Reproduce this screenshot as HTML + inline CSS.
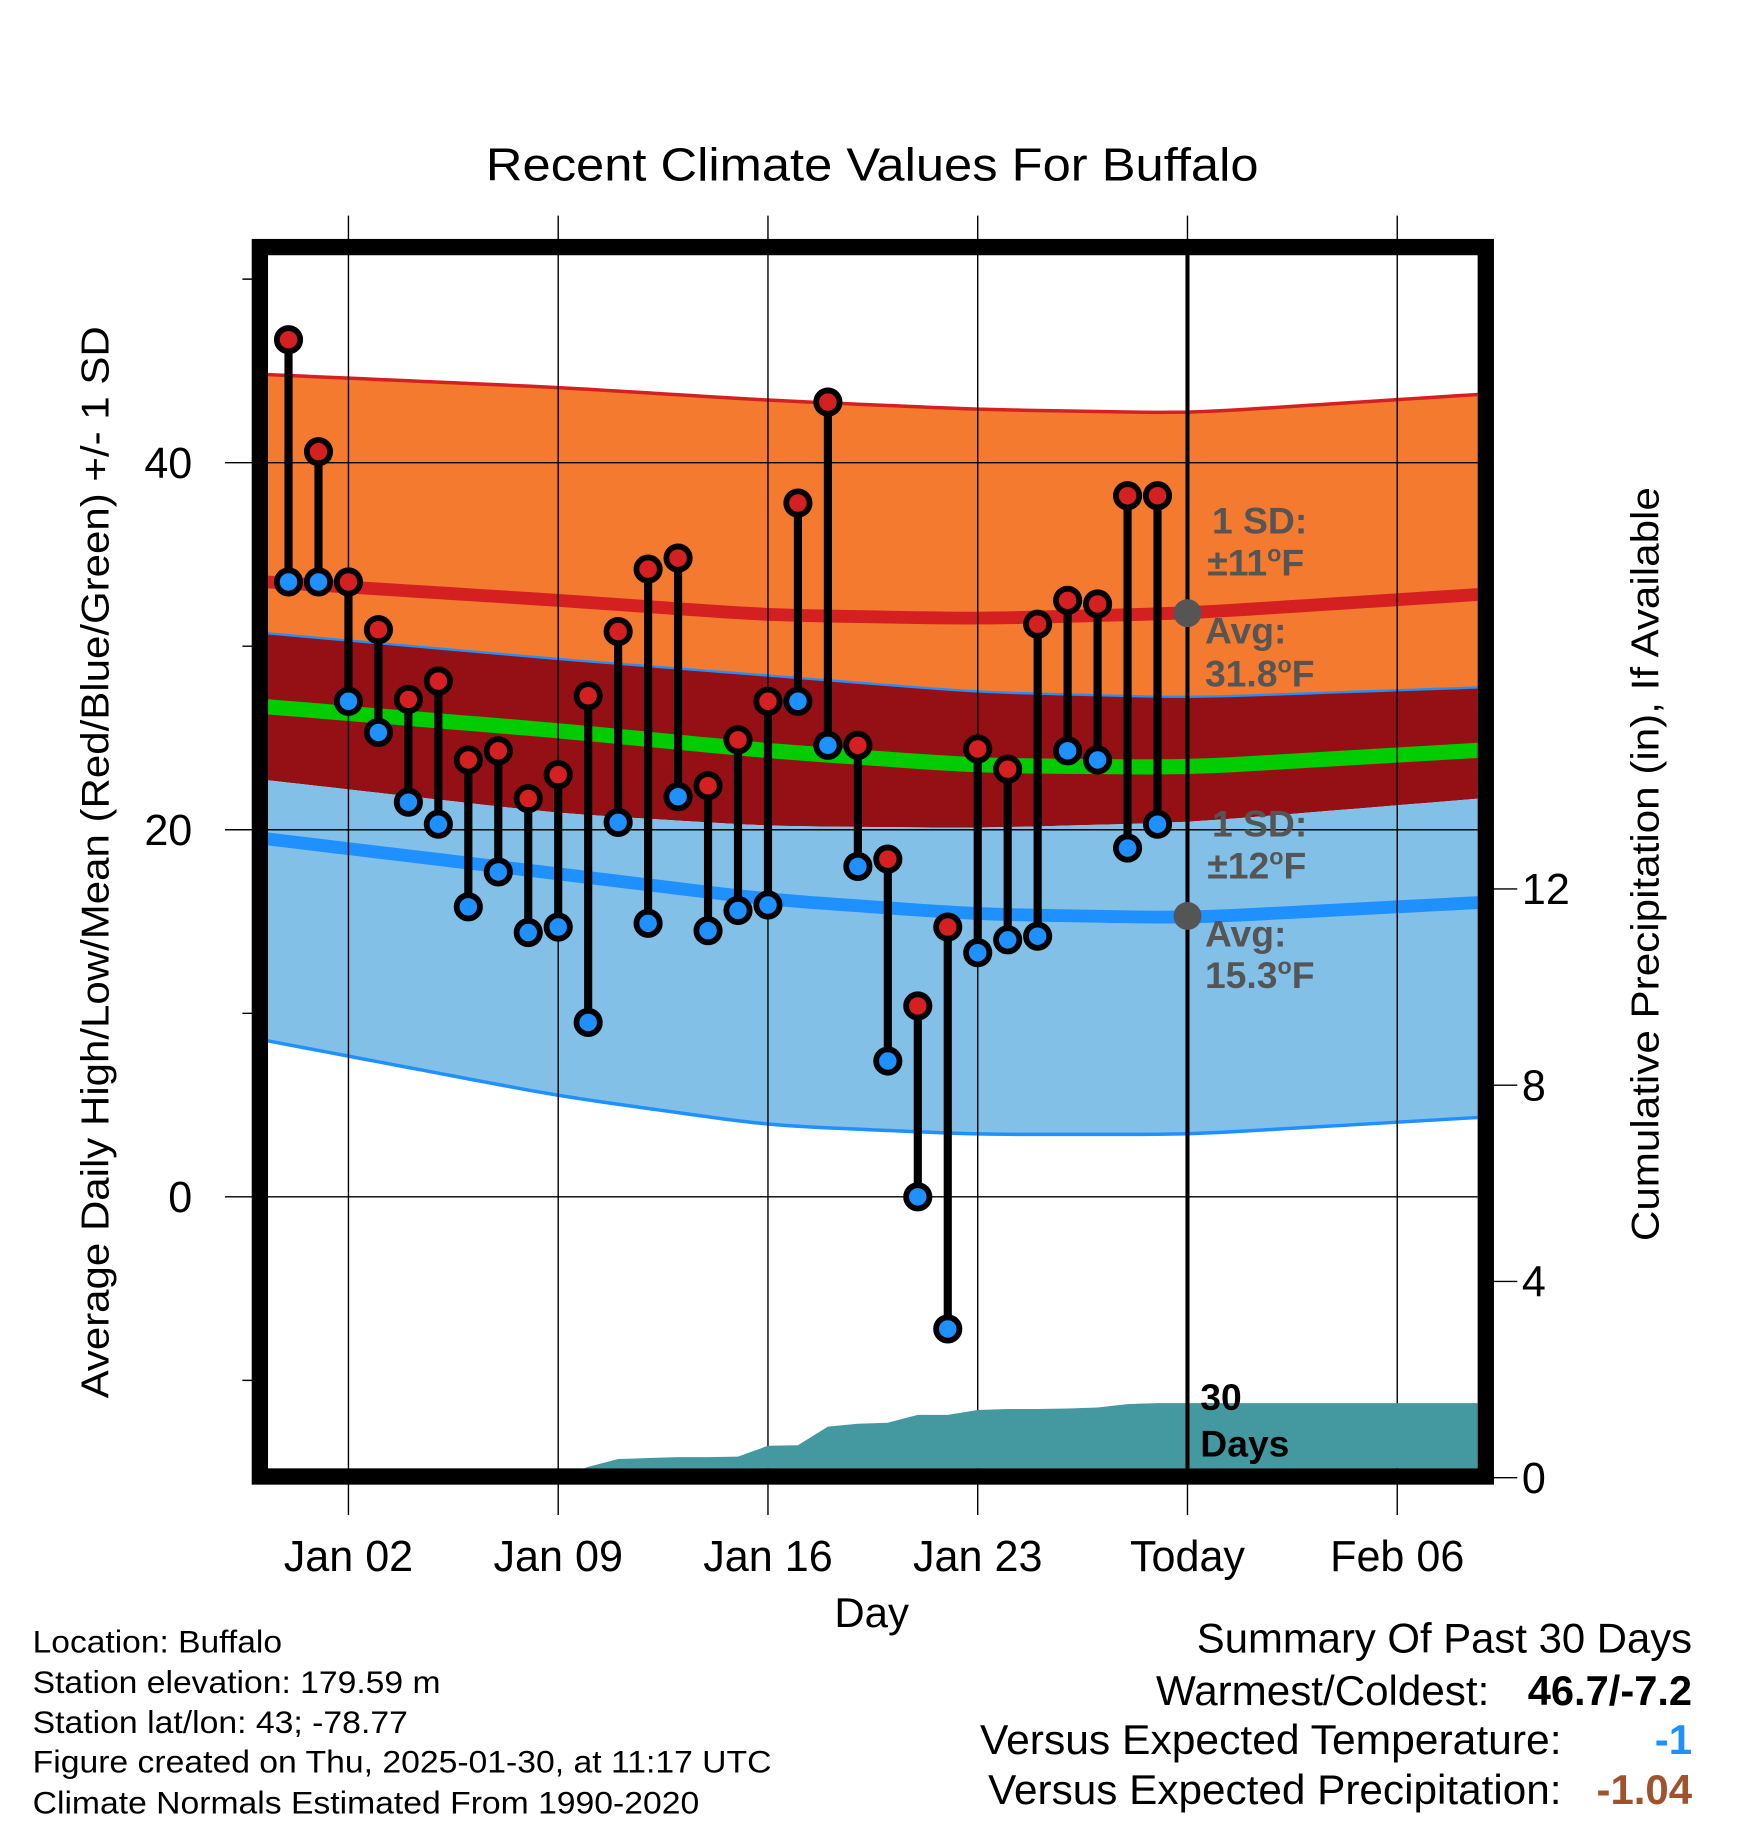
<!DOCTYPE html>
<html><head><meta charset="utf-8"><style>
html,body{margin:0;padding:0;background:#fff}
svg{display:block;font-family:"Liberation Sans",Arial,sans-serif}
</style></head><body>
<svg id="chart" width="1748" height="1828" viewBox="0 0 1500 1568.6" xmlns="http://www.w3.org/2000/svg">
<defs><clipPath id="pc"><rect x="230" y="218" width="1038" height="1042"/></clipPath></defs>
<rect width="1500" height="1569" fill="#fff"/>
<text x="417" y="155" font-size="40" textLength="663" lengthAdjust="spacingAndGlyphs">Recent Climate Values For Buffalo</text>
<g id="bands" clip-path="url(#pc)"></g>
<g id="grid"></g>
<g id="precip" clip-path="url(#pc)"></g>
<g id="marks"></g>
<g id="annot" font-weight="bold" font-size="32" fill="#555">
<text x="1040" y="458">1 SD:</text>
<text x="1036" y="494">±11<tspan font-size="20" dy="-12">o</tspan><tspan dy="12">F</tspan></text>
<text x="1034" y="552">Avg:</text>
<text x="1034" y="589">31.8<tspan font-size="20" dy="-12">o</tspan><tspan dy="12">F</tspan></text>
<text x="1040" y="718">1 SD:</text>
<text x="1036" y="754">±12<tspan font-size="20" dy="-12">o</tspan><tspan dy="12">F</tspan></text>
<text x="1034" y="812">Avg:</text>
<text x="1034" y="848">15.3<tspan font-size="20" dy="-12">o</tspan><tspan dy="12">F</tspan></text>
<text x="1030" y="1210" fill="#000">30</text>
<text x="1030" y="1250" fill="#000">Days</text>
</g>
<rect x="223" y="212" width="1052" height="1055" fill="none" stroke="#000" stroke-width="14"/>
<text transform="translate(93,1200) rotate(-90)" font-size="33" textLength="920" lengthAdjust="spacingAndGlyphs">Average Daily High/Low/Mean (Red/Blue/Green) +/- 1 SD</text>
<text transform="translate(1423,1065) rotate(-90)" font-size="33" textLength="647" lengthAdjust="spacingAndGlyphs">Cumulative Precipitation (in), If Available</text>
<text x="748" y="1396" font-size="36" text-anchor="middle">Day</text>
<g font-size="27">
<text x="28" y="1418" textLength="214" lengthAdjust="spacingAndGlyphs">Location: Buffalo</text>
<text x="28" y="1453" textLength="350" lengthAdjust="spacingAndGlyphs">Station elevation: 179.59 m</text>
<text x="28" y="1487" textLength="322" lengthAdjust="spacingAndGlyphs">Station lat/lon: 43; -78.77</text>
<text x="28" y="1521" textLength="634" lengthAdjust="spacingAndGlyphs">Figure created on Thu, 2025-01-30, at 11:17 UTC</text>
<text x="28" y="1556" textLength="572" lengthAdjust="spacingAndGlyphs">Climate Normals Estimated From 1990-2020</text>
</g>
<g font-size="36">
<text x="1027" y="1418" textLength="425" lengthAdjust="spacingAndGlyphs">Summary Of Past 30 Days</text>
<text x="992" y="1463" textLength="286" lengthAdjust="spacingAndGlyphs">Warmest/Coldest:</text>
<text x="1311" y="1463" font-weight="bold" textLength="141" lengthAdjust="spacingAndGlyphs">46.7/-7.2</text>
<text x="841" y="1505" textLength="499" lengthAdjust="spacingAndGlyphs">Versus Expected Temperature:</text>
<text x="1452" y="1505" font-weight="bold" fill="#1E90FF" text-anchor="end">-1</text>
<text x="848" y="1548" textLength="492" lengthAdjust="spacingAndGlyphs">Versus Expected Precipitation:</text>
<text x="1370" y="1548" font-weight="bold" fill="#A0522D" textLength="82" lengthAdjust="spacingAndGlyphs">-1.04</text>
</g>
</svg>
<script>
// days relative to Jan 1 (0 = Jan 1)
const obsDays = [-1,0,1,2,3,4,5,6,7,8,9,10,11,12,13,14,15,16,17,18,19,20,21,22,23,24,25,26,27,28];
const highs = [46.7,40.6,33.5,30.9,27.1,28.1,23.8,24.3,21.7,23.0,27.3,30.8,34.2,34.8,22.4,24.9,27.0,37.8,43.3,24.6,18.4,10.4,14.7,24.4,23.3,31.2,32.5,32.3,38.2,38.2];
const lows = [33.5,33.5,27.0,25.3,21.5,20.3,15.8,17.7,14.4,14.7,9.5,20.4,14.9,21.8,14.5,15.6,15.9,27.0,24.6,18.0,7.4,0,-7.2,13.3,14.0,14.2,24.3,23.8,19.0,20.3];
const precipCum = [0,0,0,0,0,0,0,0,0,0,0.22,0.38,0.4,0.42,0.42,0.43,0.65,0.66,1.04,1.1,1.12,1.28,1.28,1.38,1.4,1.4,1.41,1.43,1.5,1.52];
const normDays = [-1.7,8,15,22,29,39.5];
const normHighPlusSD = [44.8,44.1,43.4,42.9,42.7,43.8];
const normHigh = [33.5,32.5,31.7,31.5,31.8,32.9];
const normHighMinusSD = [30.7,29.3,28.4,27.5,27.2,27.8];
const normMean = [26.7,25.4,24.3,23.5,23.4,24.4];
const normLowPlusSD = [22.7,20.9,20.2,20.1,20.4,21.8];
const normLow = [19.5,17.6,16.2,15.4,15.2,16.1];
const normLowMinusSD = [8.5,5.5,3.9,3.4,3.4,4.4];
const xTickDays = [1,8,15,22,29,36];
const xTickLabels = ["Jan 02","Jan 09","Jan 16","Jan 23","Today","Feb 06"];
const yTicks = [0,20,40];
const yMinor = [-10,10,30,50];
const y2Ticks = [0,4,8,12];

const NS="http://www.w3.org/2000/svg";
const X=d=>273.3+d*25.714;
const Y=v=>1027-15.75*v;
const Y2=p=>1268-42.1*p;
function mk(tag,parent,attrs){const e=document.createElementNS(NS,tag);for(const k in attrs)e.setAttribute(k,attrs[k]);document.getElementById(parent).appendChild(e);return e;}
function interp(arr,d){let i=0;while(i<normDays.length-2&&d>normDays[i+1])i++;
// monotone-ish smoothing via cosine blend between neighbouring segments
const t=(d-normDays[i])/(normDays[i+1]-normDays[i]);return arr[i]+(arr[i+1]-arr[i])*t;}
function curve(arr){const pts=[];for(let d=-2;d<=40;d+=0.5){
let v=0,w=0;for(let k=-3;k<=3;k++){const wk=Math.exp(-k*k/4);v+=interp(arr,d+k*0.8)*wk;w+=wk;}
pts.push([X(d),Y(v/w)]);}return pts;}
function band(top,bot,fill,name){const a=curve(top),b=curve(bot).reverse();const e=mk('path','bands',{d:'M'+a.concat(b).map(p=>p.join(',')).join('L')+'Z',fill:fill});

}
function line(arr,col,w,name){const e=mk('path','bands',{d:'M'+curve(arr).map(p=>p.join(',')).join('L'),fill:'none',stroke:col,'stroke-width':w});

}
band(normHighPlusSD,normHighMinusSD,'#F47A30','high-sd-band');
band(normHighMinusSD,normLowPlusSD,'#951015','mid-band');
band(normLowPlusSD,normLowMinusSD,'#82C0E8','low-sd-band');
line(normHighPlusSD,'#D42020',3,'high-plus-sd-line');
line(normHighMinusSD,'#1E90FF',2,'high-minus-sd-line');
line(normHigh,'#D42020',11,'normal-high-line');
line(normMean,'#00CC00',13,'normal-mean-line');
line(normLow,'#1E90FF',11,'normal-low-line');
line(normLowMinusSD,'#1E90FF',3,'low-minus-sd-line');
// grid
xTickDays.forEach((d,i)=>{const l=mk('line','grid',{x1:X(d),x2:X(d),y1:185,y2:1300,stroke:'#000','stroke-width':1.2});


const t=mk('text','grid',{x:X(d),y:1348,'font-size':37,'text-anchor':'middle'});t.textContent=xTickLabels[i];

});
yTicks.forEach(v=>{const l=mk('line','grid',{x1:193,x2:1268,y1:Y(v),y2:Y(v),stroke:'#000','stroke-width':1.2});


const t=mk('text','grid',{x:165,y:Y(v)+13,'font-size':37,'text-anchor':'end'});t.textContent=v;

});
yMinor.forEach(v=>{const l=mk('line','grid',{x1:208,x2:222,y1:Y(v),y2:Y(v),stroke:'#000','stroke-width':1.2});

});
y2Ticks.forEach(p=>{const l=mk('line','grid',{x1:1276,x2:1302,y1:Y2(p),y2:Y2(p),stroke:'#000','stroke-width':1.2});


const t=mk('text','grid',{x:1306,y:Y2(p)+13,'font-size':37});t.textContent=p;

});
// precip
{let pts=obsDays.map((d,i)=>[X(d),Y2(precipCum[i])]);pts.push([X(40),Y2(precipCum[precipCum.length-1])]);
const d='M'+X(obsDays[0])+','+Y2(0)+'L'+pts.map(p=>p.join(',')).join('L')+'L'+X(40)+','+Y2(0)+'Z';
const e=mk('path','precip',{d:d,fill:'#4499A0'});

}
// today line
{const l=mk('line','marks',{x1:X(29),x2:X(29),y1:218,y2:1260,stroke:'#000','stroke-width':3.5});


[31.8,15.3].forEach(v=>{const c=mk('circle','marks',{cx:X(29),cy:Y(v),r:12,fill:'#555'});

});}
// observations
obsDays.forEach((d,i)=>{const l=mk('line','marks',{x1:X(d),x2:X(d),y1:Y(highs[i]),y2:Y(lows[i]),stroke:'#000','stroke-width':7});


const h=mk('circle','marks',{cx:X(d),cy:Y(highs[i]),r:10,fill:'#D42020',stroke:'#000','stroke-width':5});


const lo=mk('circle','marks',{cx:X(d),cy:Y(lows[i]),r:10,fill:'#1E90FF',stroke:'#000','stroke-width':5});

});
</script>
</body></html>
